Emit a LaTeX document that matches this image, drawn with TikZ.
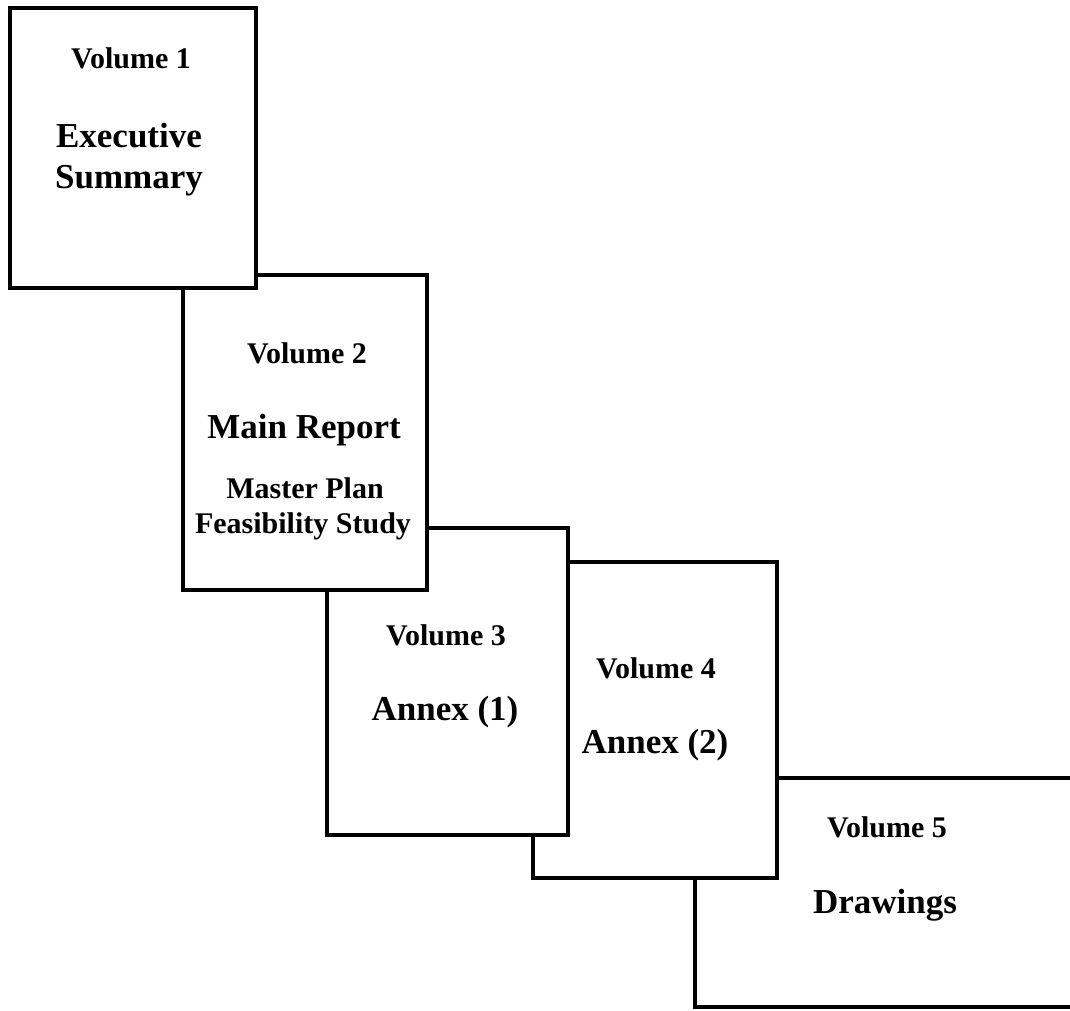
\documentclass[tikz,border=0pt]{standalone}
\usepackage{fontspec}
\setmainfont{Liberation Serif}
\begin{document}
\begin{tikzpicture}[x=1pt,y=-1pt,
  volbox/.style={draw=black,fill=white,line width=3.5pt,rectangle,inner sep=0pt},
  vollabel/.style={anchor=base,inner sep=0pt,font=\fontsize{30}{36}\selectfont\bfseries},
  voltitle/.style={anchor=base,inner sep=0pt,font=\fontsize{35}{42}\selectfont\bfseries},
  volnote/.style={anchor=base,inner sep=0pt,font=\fontsize{30}{36}\selectfont\bfseries}]
\useasboundingbox (0,0) rectangle (1070,1010);
\clip (0,0) rectangle (1070,1010);

% stack of volumes, back to front
\node[volbox,minimum width=405pt,minimum height=229pt] (b5) at (897.5,892.5) {};
\node[volbox,minimum width=244pt,minimum height=316pt] (b4) at (655,720) {};
\node[volbox,minimum width=241pt,minimum height=307pt] (b3) at (447.5,681.5) {};
\node[volbox,minimum width=244pt,minimum height=315pt] (b2) at (305,432.5) {};
\node[volbox,minimum width=246pt,minimum height=280pt] (b1) at (133,148) {};

% Volume 1
\node[vollabel] (l1) at (131,68) {Volume 1};
\node[voltitle] (t1a) at (129,147) {Executive};
\node[voltitle] (t1b) at (129,188) {Summary};

% Volume 2
\node[vollabel] (l2) at (307,363) {Volume 2};
\node[voltitle] (t2) at (304,438) {Main Report};
\node[volnote] (n2a) at (305,498) {Master Plan};
\node[volnote] (n2b) at (303,533) {Feasibility Study};

% Volume 3
\node[vollabel] (l3) at (446,645) {Volume 3};
\node[voltitle] (t3) at (445,720) {Annex (1)};

% Volume 4
\node[vollabel] (l4) at (656,678) {Volume 4};
\node[voltitle] (t4) at (655,753) {Annex (2)};

% Volume 5
\node[vollabel] (l5) at (887,837) {Volume 5};
\node[voltitle] (t5) at (885,913) {Drawings};
\end{tikzpicture}
\end{document}
